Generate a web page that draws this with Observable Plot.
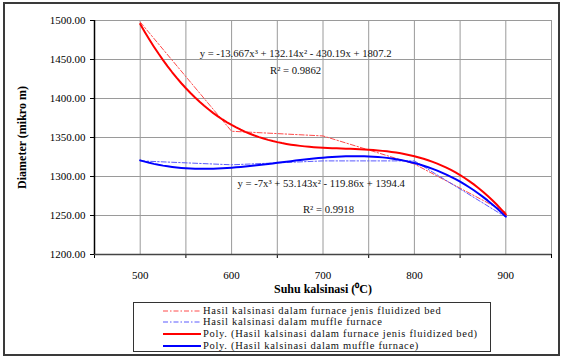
<!DOCTYPE html>
<html>
<head>
<meta charset="utf-8">
<script src="https://cdn.jsdelivr.net/npm/d3@7"></script>
<script src="https://cdn.jsdelivr.net/npm/@observablehq/plot@0.6"></script>
<style>
  html, body { margin: 0; padding: 0; background: #fff; }
  #wrap { position: relative; width: 568px; height: 359px; overflow: hidden; font-family: "Liberation Serif", "Times New Roman", serif; }
  #frame { position: absolute; left: 3px; top: 2px; width: 557px; height: 354px; box-sizing: border-box; border: 2px solid #3a3a3a; }
  #chart { position: absolute; left: 0; top: 0; }
  #chart svg, #chart svg text { font-family: "Liberation Serif", "Times New Roman", serif; }
  #legend { position: absolute; left: 133px; top: 302px; width: 358px; height: 50px; box-sizing: border-box; border: 1.5px solid #333; padding-top: 1.5px; font-size: 10.5px; letter-spacing: 0.7px; color: #111; }
  #legend .row { position: relative; height: 11.7px; line-height: 11.7px; white-space: nowrap; }
  #legend svg { position: absolute; left: 29px; top: 0; }
  #legend span { position: absolute; left: 69px; top: 0; }
</style>
</head>
<body>
<div id="wrap">
  <div id="frame"></div>
  <div id="chart"></div>
  <div id="legend"></div>
</div>
<script>
// ---- data ----
const temps = [500, 600, 700, 800, 900];
const fluidized = [1498, 1358, 1352, 1316, 1254];
const muffle = [1320, 1315, 1320, 1320, 1248];
// trendline coefficients shown on the chart (x = 1..5 category index)
const coefFluidized = [-13.667, 132.14, -430.19, 1807.2];
const coefMuffle = [-7, 53.143, -119.86, 1394.4];
const r2Values = [0.9862, 0.9918];
const yTicks = [1200, 1250, 1300, 1350, 1400, 1450, 1500];
const xTickLabels = [500, 600, 700, 800, 900];
const xTickMarks = [450, 550, 650, 750, 850, 950];
const xGrid = [500, 550, 600, 650, 700, 750, 800, 850, 900, 950];
const seriesNames = [
  "Hasil kalsinasi dalam furnace jenis fluidized bed",
  "Hasil kalsinasi dalam muffle furnace",
  "Poly. (Hasil kalsinasi dalam furnace jenis fluidized bed)",
  "Poly. (Hasil kalsinasi dalam muffle furnace)"
];

const red = "#ff0000", blue = "#0000ff", redLight = "#ff4a4a", blueLight = "#5a5aff";
const dashDot = "5,2,1.5,2";

const rows = (vals, s) => temps.map((t, i) => ({temp: t, d: vals[i], s}));
const dataF = rows(fluidized, 0);
const dataM = rows(muffle, 1);

const poly = (c, t) => c[0]*t*t*t + c[1]*t*t + c[2]*t + c[3];
const trend = (c) => d3.range(0, 81).map(k => {
  const t = 1 + k * 0.05;
  return {temp: temps[0] + (t - 1) * (temps[1] - temps[0]), d: poly(c, t)};
});
const trendF = trend(coefFluidized);
const trendM = trend(coefMuffle);

const fmtC = (v) => (v < 0 ? "- " : "+ ") + Math.abs(v);
const eqText = (c) => `y = ${c[0]}x³ ${fmtC(c[1])}x² ${fmtC(c[2])}x ${fmtC(c[3])}`;

const font = "Liberation Serif";

const plot = Plot.plot({
  width: 568,
  height: 300,
  marginLeft: 94,
  marginRight: 17,
  marginTop: 20,
  marginBottom: 46,
  style: {fontFamily: font, fontSize: "11px", color: "#000", background: "transparent"},
  x: {domain: [450, 950]},
  y: {domain: [1200, 1500]},
  marks: [
    Plot.gridX(xGrid, {stroke: "#9a9a9a", strokeOpacity: 1}),
    Plot.gridY(yTicks.slice(1), {stroke: "#9a9a9a", strokeOpacity: 1}),
    Plot.axisY({ticks: yTicks, tickFormat: d3.format(".2f"), tickSize: 4, tickPadding: 5, label: null, fontSize: 11}),
    Plot.axisX({ticks: xTickMarks, tickFormat: () => "", tickSize: 4, label: null}),
    Plot.axisX({ticks: xTickLabels, tickSize: 0, tickPadding: 17, label: null, fontSize: 11}),
    Plot.ruleY([1200], {stroke: "#444", strokeWidth: 1.5}),
    Plot.ruleX([450], {stroke: "#000", strokeWidth: 1.5}),
    Plot.line(dataF, {x: "temp", y: "d", stroke: redLight, strokeWidth: 1, strokeDasharray: dashDot}),
    Plot.line(dataM, {x: "temp", y: "d", stroke: blueLight, strokeWidth: 1, strokeDasharray: dashDot}),
    Plot.line(trendM, {x: "temp", y: "d", stroke: blue, strokeWidth: 2}),
    Plot.line(trendF, {x: "temp", y: "d", stroke: red, strokeWidth: 2}),
    Plot.text([eqText(coefFluidized)], {x: 670, y: 1458, text: d => d, fontSize: 10.7, fill: "#111"}),
    Plot.text([`R² = ${r2Values[0]}`], {x: 670, y: 1436, text: d => d, fontSize: 10.7, fill: "#111"}),
    Plot.text([eqText(coefMuffle)], {x: 698, y: 1291, text: d => d, fontSize: 10.7, fill: "#111"}),
    Plot.text([`R² = ${r2Values[1]}`], {x: 706, y: 1258, text: d => d, fontSize: 10.7, fill: "#111"}),
    Plot.text(["Suhu kalsinasi (⁰C)"], {frameAnchor: "bottom", dy: 38, text: d => d, fontSize: 12, fontWeight: "bold", fill: "#000"}),
    Plot.text(["Diameter (mikro m)"], {frameAnchor: "left", dx: -72, rotate: -90, textAnchor: "middle", text: d => d, fontSize: 12, fontWeight: "bold", fill: "#000"})
  ]
});
document.getElementById("chart").appendChild(plot);

// legend
const legendStyles = [
  {stroke: redLight, width: 1, dash: dashDot},
  {stroke: blueLight, width: 1, dash: dashDot},
  {stroke: red, width: 2, dash: null},
  {stroke: blue, width: 2, dash: null}
];
const legend = document.getElementById("legend");
seriesNames.forEach((name, i) => {
  const st = legendStyles[i];
  const row = document.createElement("div");
  row.className = "row";
  row.innerHTML = `<svg width="38" height="11.7"><line x1="0" x2="38" y1="6" y2="6" stroke="${st.stroke}" stroke-width="${st.width}" ${st.dash ? `stroke-dasharray="${st.dash}"` : ""}/></svg><span>${name}</span>`;
  legend.appendChild(row);
});
</script>
</body>
</html>
